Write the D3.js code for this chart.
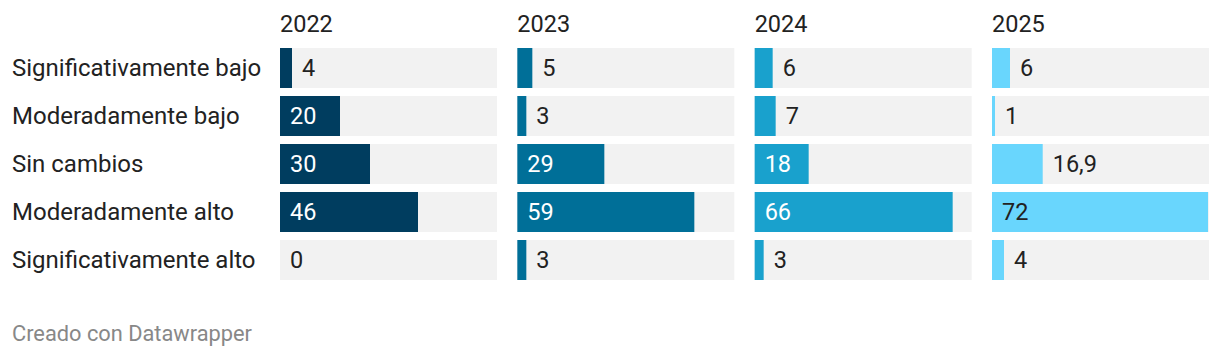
<!DOCTYPE html>
<html><head><meta charset="utf-8">
<script src="https://cdn.jsdelivr.net/npm/d3@7"></script>
<style>
html,body{margin:0;padding:0;background:#fff;}
svg{display:block;}
text{font-family:Roboto,"Noto Sans",sans-serif;}
</style></head>
<body>
<svg id="chart" width="1220" height="356"></svg>
<script>
const categories = ["Significativamente bajo","Moderadamente bajo","Sin cambios","Moderadamente alto","Significativamente alto"];
const years = ["2022","2023","2024","2025"];
const values2022 = [4,20,30,46,0];
const values2023 = [5,3,29,59,3];
const values2024 = [6,7,18,66,3];
const values2025 = [6,1,16.9,72,4];
const colors = ["#003d5f","#006f98","#19a1cd","#69d6fd"];
const insideTextColors = ["#ffffff","#ffffff","#ffffff","#222222"];
const seriesValues = [values2022,values2023,values2024,values2025];

const svg = d3.select("#chart");
const fmt = v => String(v).replace(".", ",");

const panelX = d3.scalePoint().domain(years).range([280, 992]);
const panelW = 217;
// band step 48, bar height 40
const y = d3.scaleBand().domain(categories).range([48, 280]).paddingInner(1/6).paddingOuter(0);
const x = d3.scaleLinear().domain([0, 72]).range([0, 216]);

// row labels
svg.append("g").selectAll("text").data(categories).join("text")
  .attr("x", 12)
  .attr("y", d => y(d) + y.bandwidth()/2)
  .attr("dy", "0.35em")
  .attr("font-size", 24)
  .attr("fill", "#222")
  .text(d => d);

years.forEach((yr, i) => {
  const g = svg.append("g").attr("transform", `translate(${panelX(yr)},0)`);
  g.append("text").attr("x", 0).attr("y", 32).attr("font-size", 23.5).attr("fill", "#222").text(yr);
  const data = categories.map((c, j) => ({c, v: seriesValues[i][j]}));
  g.selectAll("rect.bg").data(data).join("rect").attr("class","bg")
    .attr("x", 0).attr("y", d => y(d.c)).attr("width", panelW).attr("height", y.bandwidth()).attr("fill", "#f2f2f2");
  g.selectAll("rect.bar").data(data).join("rect").attr("class","bar")
    .attr("x", 0).attr("y", d => y(d.c)).attr("width", d => x(d.v)).attr("height", y.bandwidth()).attr("fill", colors[i]);
  g.selectAll("text.val").data(data).join("text").attr("class","val")
    .attr("y", d => y(d.c) + y.bandwidth()/2)
    .attr("dy", "0.35em")
    .attr("font-size", 23.5)
    .text(d => fmt(d.v))
    .each(function(d) {
      const w = this.getComputedTextLength();
      const bw = x(d.v);
      const inside = w + 20 <= bw;
      d3.select(this).attr("x", inside ? 10 : bw + 10)
        .attr("fill", inside ? insideTextColors[i] : "#222");
    });
});

svg.append("text").attr("x", 12).attr("y", 341).attr("font-size", 21.8).attr("fill", "#888").text("Creado con Datawrapper");
</script>
</body></html>
